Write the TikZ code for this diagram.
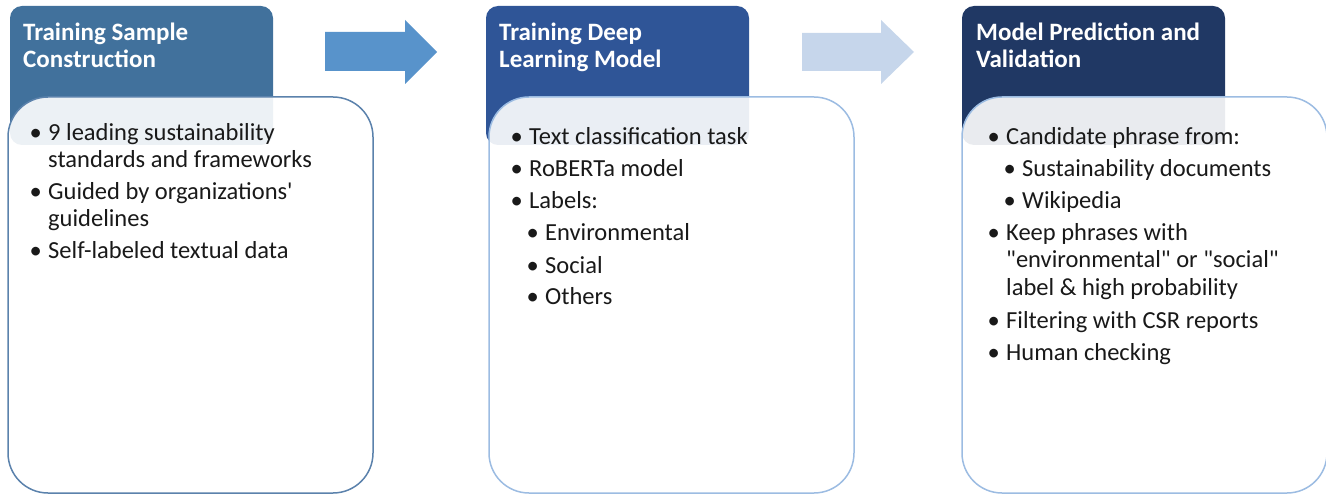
\documentclass[tikz,border=0pt]{standalone}
\usepackage{fontspec}
\setmainfont{Carlito}[Ligatures=TeXOff]
\definecolor{hdrA}{HTML}{41719C}
\definecolor{hdrB}{HTML}{2F5597}
\definecolor{hdrC}{HTML}{203864}
\definecolor{brdA}{HTML}{5B82AC}
\definecolor{brdB}{HTML}{9CBCE2}
\definecolor{arrA}{HTML}{5893CB}
\definecolor{arrB}{HTML}{C6D6EB}
\newcommand\bul{\llap{\makebox[25pt]{\char"2022}}}
\tikzset{
  hdr/.style={rectangle, rounded corners=12pt, inner sep=0pt, outer sep=0pt,
    minimum width=263pt, minimum height=139pt},
  bodybox/.style={rectangle, rounded corners=40pt, fill=white, fill opacity=0.9,
    line width=1.5pt, inner sep=0pt, outer sep=0pt,
    minimum width=365pt, minimum height=396pt},
  ttl/.style={anchor=base west, inner sep=0pt, text=white,
    font=\fontsize{25}{30}\selectfont\bfseries},
  txt/.style={anchor=base west, inner sep=0pt, text=black!90,
    font=\fontsize{24.5}{29}\selectfont},
}
\begin{document}
\begin{tikzpicture}[x=1pt,y=-1pt]
\useasboundingbox (0,0) rectangle (1326,497);
% headers
\node[hdr, fill=hdrA] (h1) at (141.5,75.5) {};
\node[hdr, fill=hdrB] (h2) at (617.5,75.5) {};
\node[hdr, fill=hdrC] (h3) at (1093.5,75.5) {};
% body boxes
\node[bodybox, draw=brdA] (b1) at (190.5,295) {};
\node[bodybox, draw=brdB] (b2) at (671.5,295) {};
\node[bodybox, draw=brdB] (b3) at (1144.5,295) {};
% block arrows
\fill[arrA] (325,32) -- (405,32) -- (405,20) -- (437,52) -- (405,84) -- (405,71) -- (325,71) -- cycle;
\fill[arrB] (802,33) -- (881,33) -- (881,20) -- (914,52) -- (881,84) -- (881,71) -- (802,71) -- cycle;
% titles
\node[ttl] (t1a) at (23,41) {Training Sample};
\node[ttl] (t1b) at (23,68) {Construction};
\node[ttl] (t2a) at (499,41) {Training Deep};
\node[ttl] (t2b) at (499,68) {Learning Model};
\node[ttl] (t3a) at (976,41) {Model Prediction and};
\node[ttl] (t3b) at (976,68) {Validation};
% box 1 text
\node[txt] (a1) at (48,141) {\bul 9 leading sustainability};
\node[txt] (a2) at (48,168) {standards and frameworks};
\node[txt] (a3) at (48,200) {\bul Guided by organizations'};
\node[txt] (a4) at (48,227) {guidelines};
\node[txt] (a5) at (48,259) {\bul Self-labeled textual data};
% box 2 text
\node[txt] (c1) at (529,145) {\bul Text classification task};
\node[txt] (c2) at (529,177) {\bul RoBERTa model};
\node[txt] (c3) at (529,209) {\bul Labels:};
\node[txt] (c4) at (545,241) {\bul Environmental};
\node[txt] (c5) at (545,273) {\bul Social};
\node[txt] (c6) at (545,305) {\bul Others};
% box 3 text
\node[txt] (d1) at (1006,145) {\bul Candidate phrase from:};
\node[txt] (d2) at (1022,177) {\bul Sustainability documents};
\node[txt] (d3) at (1022,209) {\bul Wikipedia};
\node[txt] (d4) at (1006,241) {\bul Keep phrases with};
\node[txt] (d5) at (1006,268) {"environmental" or "social"};
\node[txt] (d6) at (1006,296) {label \& high probability};
\node[txt] (d7) at (1006,328) {\bul Filtering with CSR reports};
\node[txt] (d8) at (1006,360) {\bul Human checking};
\end{tikzpicture}
\end{document}
